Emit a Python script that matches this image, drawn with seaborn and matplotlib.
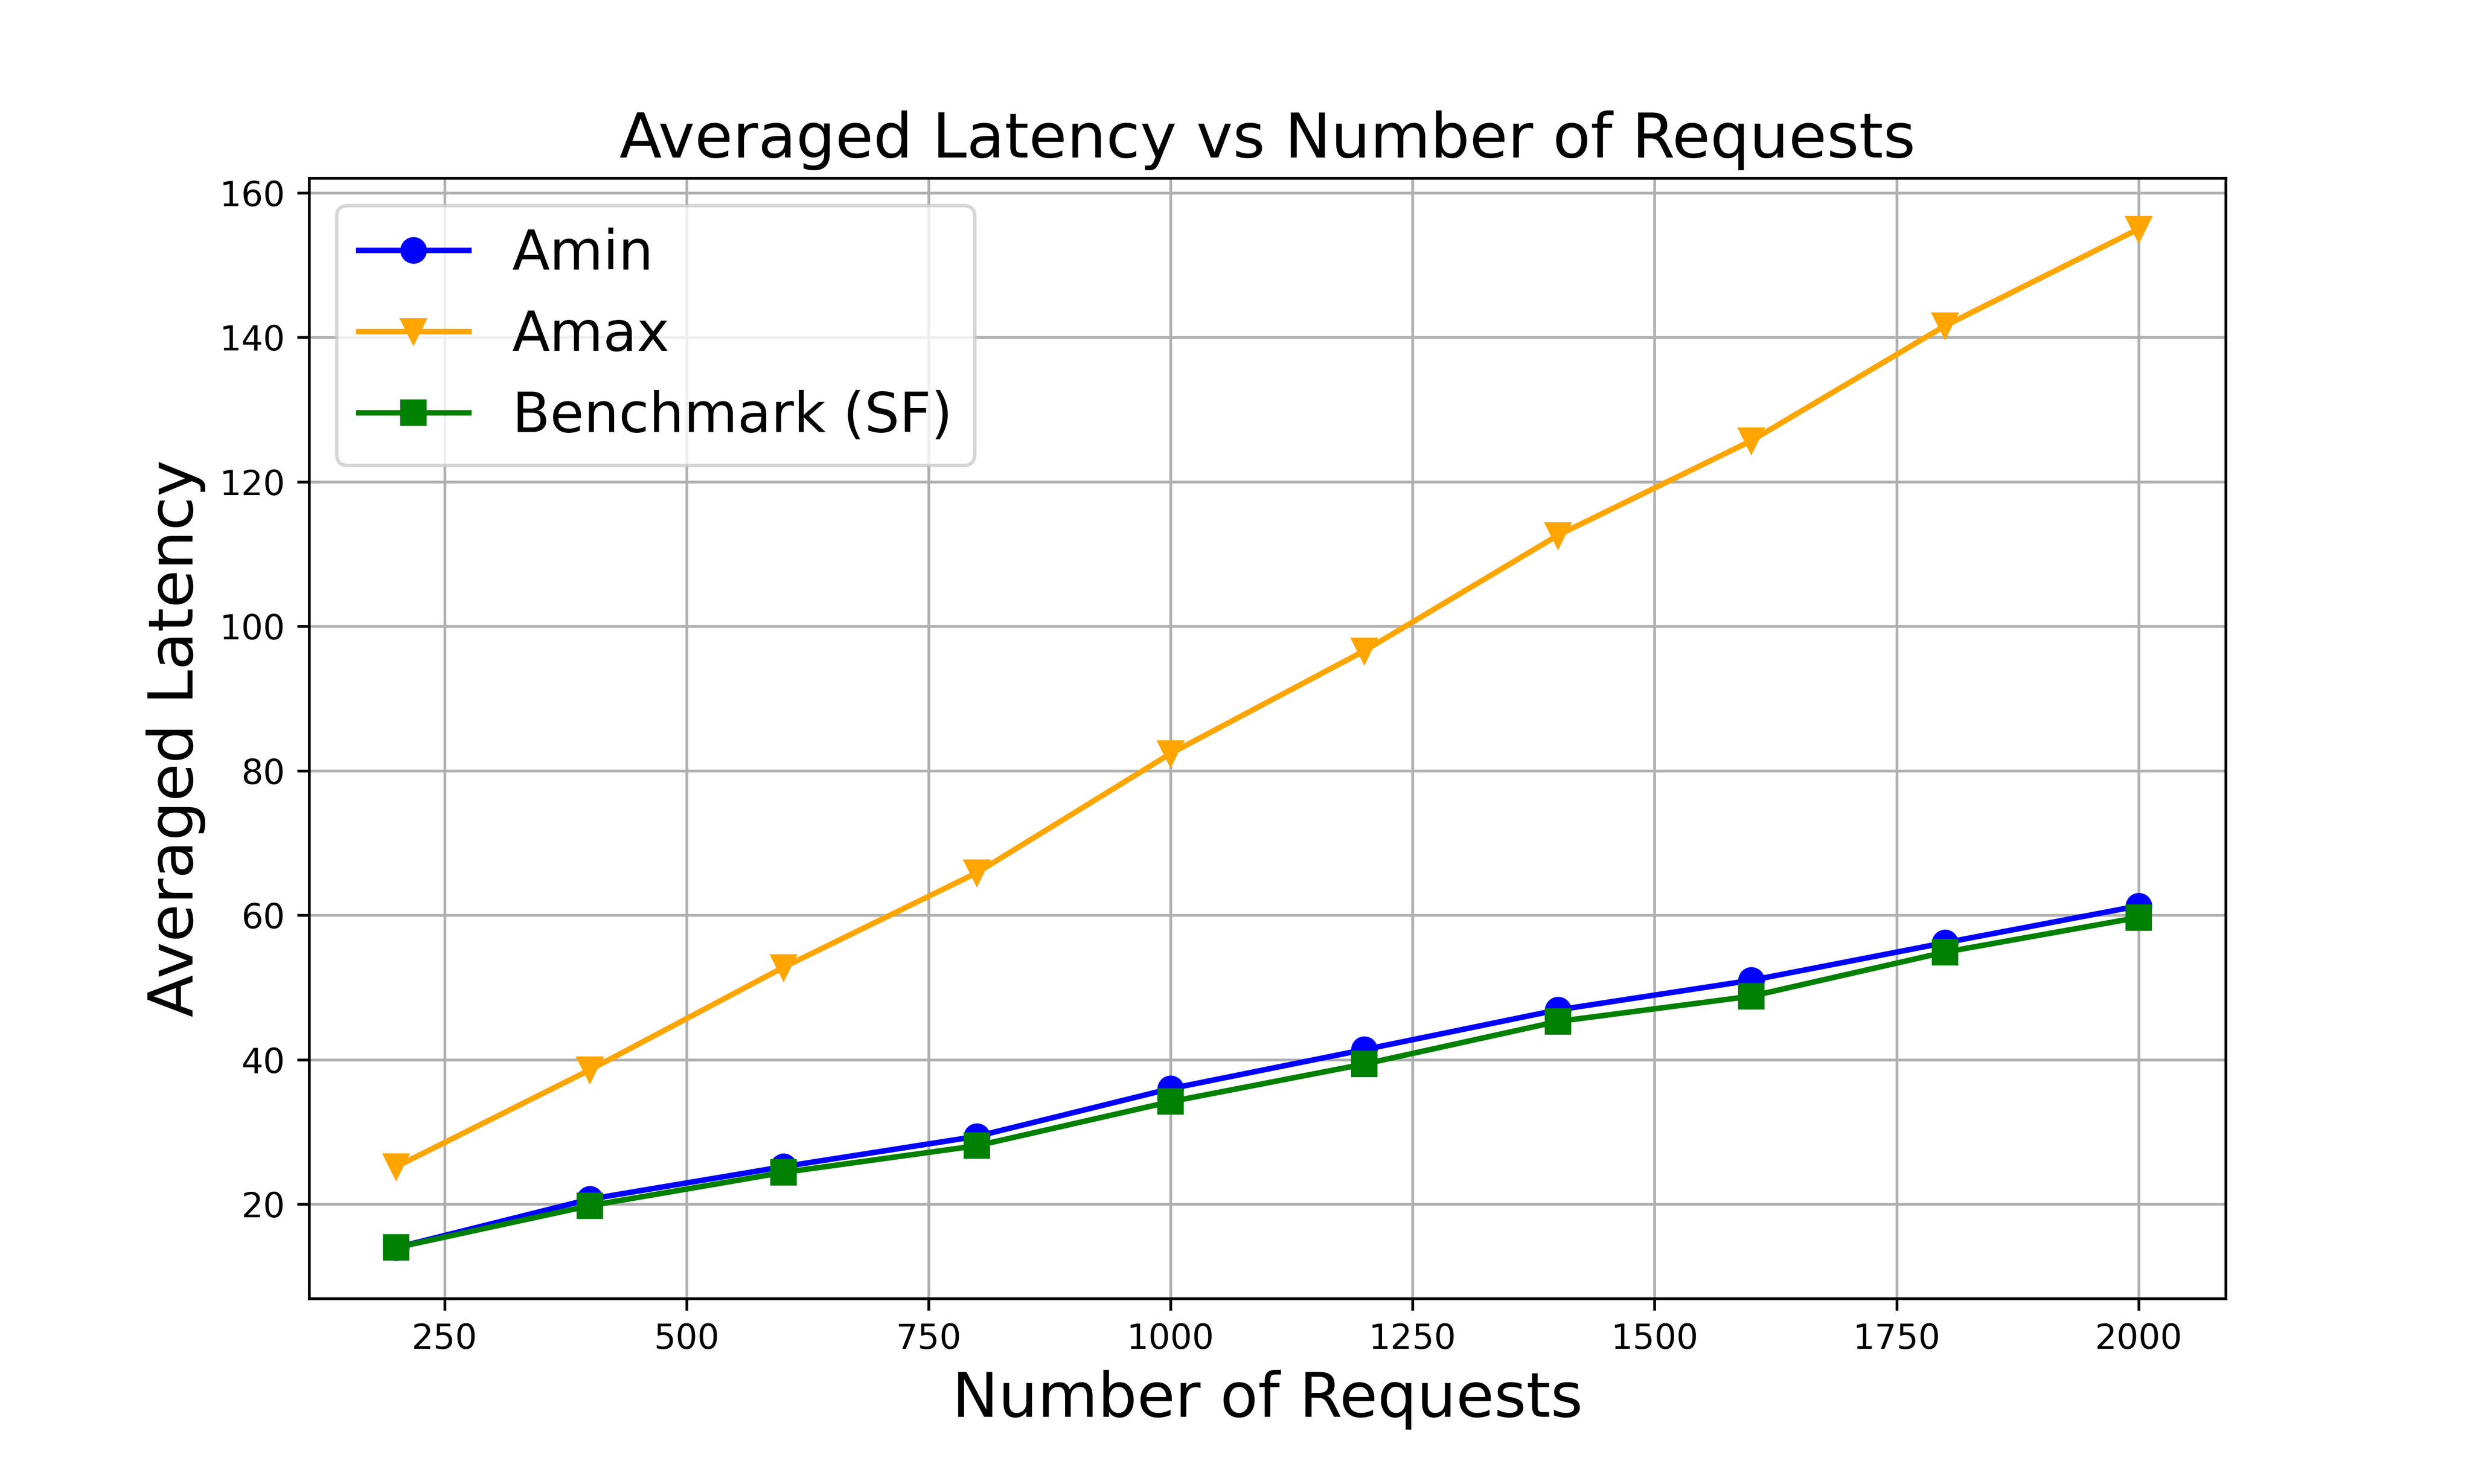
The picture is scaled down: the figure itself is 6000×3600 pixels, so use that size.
import matplotlib
matplotlib.use('Agg')
import matplotlib.pyplot as plt
import seaborn as sns
import pandas as pd

requests = [200, 400, 600, 800, 1000, 1200, 1400, 1600, 1800, 2000]
amin = [14.0, 20.7, 25.2, 29.4, 36.0, 41.4, 46.9, 51.0, 56.2, 61.3]
amax = [25.2, 38.6, 52.8, 65.9, 82.4, 96.6, 112.6, 125.7, 141.6, 155.0]
benchmark = [14.0, 19.8, 24.4, 28.1, 34.2, 39.4, 45.3, 48.8, 54.9, 59.7]

data = pd.DataFrame({'requests': requests, 'Amin': amin,
                     'Amax': amax, 'Benchmark (SF)': benchmark})

fig, ax = plt.subplots(figsize=(10, 6))
fig.subplots_adjust(bottom=0.125)
sns.lineplot(data=data, x='requests', y='Amin', marker='o', color='blue',
             markeredgecolor='blue', markersize=7, linewidth=1.6, label='Amin', ax=ax)
sns.lineplot(data=data, x='requests', y='Amax', marker='v', color='orange',
             markeredgecolor='orange', markersize=7, linewidth=1.6, label='Amax', ax=ax)
sns.lineplot(data=data, x='requests', y='Benchmark (SF)', marker='s', color='green',
             markeredgecolor='green', markersize=7, linewidth=1.6,
             label='Benchmark (SF)', ax=ax)

ax.set_title('Averaged Latency vs Number of Requests', fontsize=18)
ax.set_xlabel('Number of Requests', fontsize=18)
ax.set_ylabel('Averaged Latency', fontsize=18)
ax.legend(fontsize=16, loc='upper left')
ax.grid(True)

plt.savefig('out.png', dpi=600)
